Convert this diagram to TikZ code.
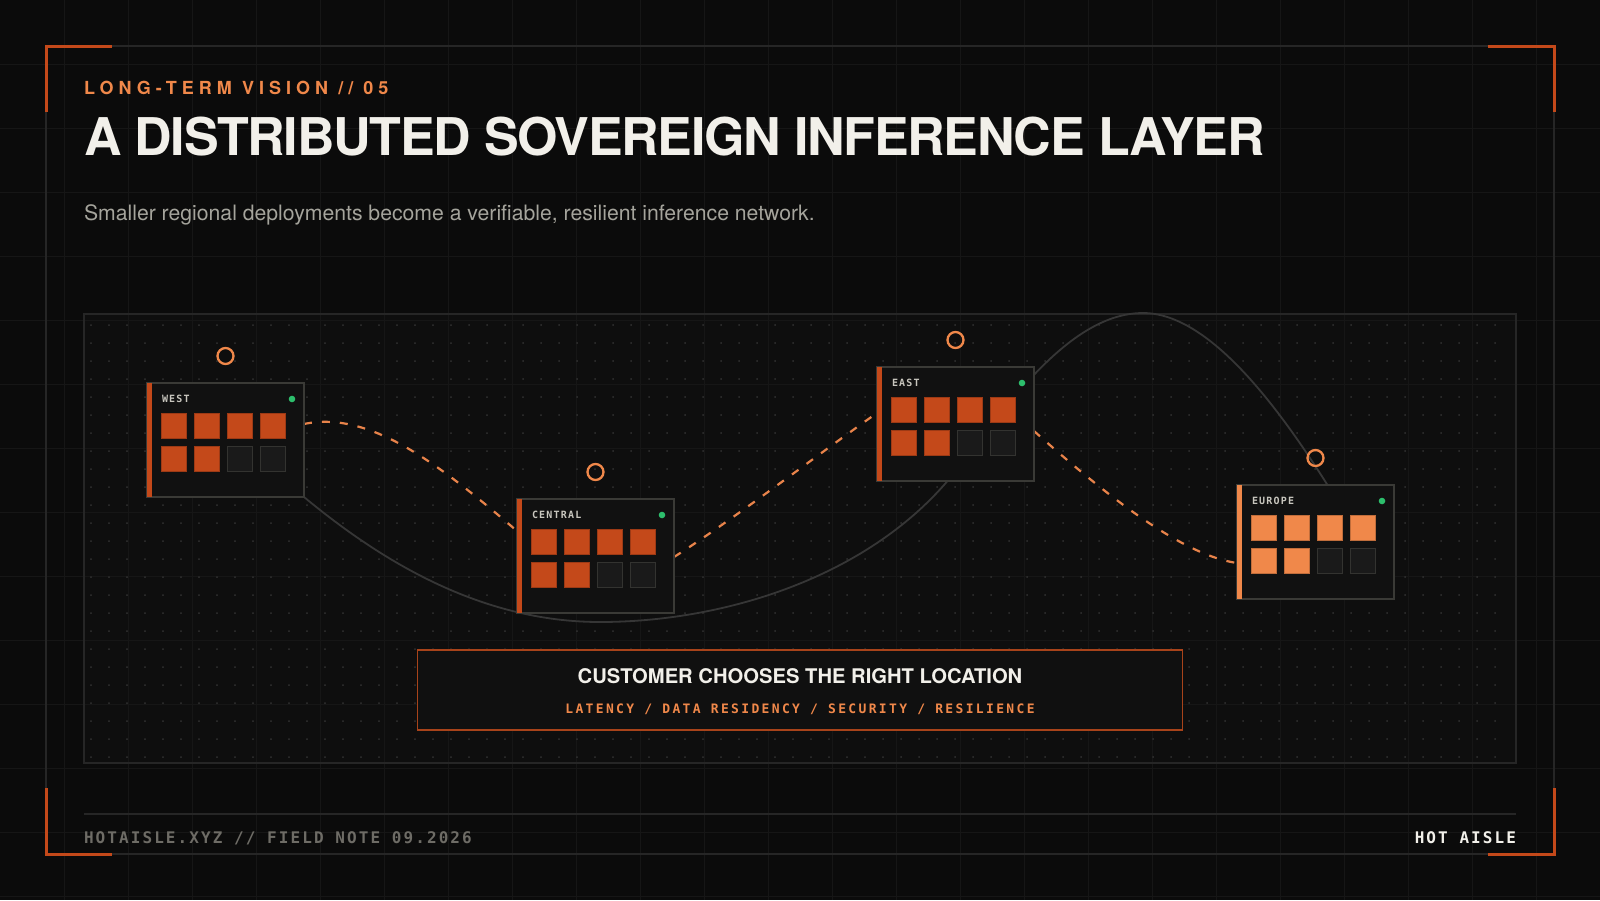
\documentclass[tikz,border=0pt]{standalone}
\usepackage{fontspec}
\setmainfont{TeX Gyre Heros}
\newfontfamily\headfont{TeX Gyre Heros}[LetterSpace=-2.5]
\newfontfamily\kickfont{TeX Gyre Heros}[LetterSpace=28]
\newfontfamily\tagfont{DejaVu Sans Mono}[LetterSpace=12]
\newfontfamily\factorfont{DejaVu Sans Mono}[LetterSpace=18]
\newfontfamily\footfont{DejaVu Sans Mono}[LetterSpace=13]
\usetikzlibrary{calc, positioning}
\definecolor{bgblack}{HTML}{0B0B0B}
\definecolor{gridgrey}{HTML}{161616}
\definecolor{framegrey}{HTML}{262626}
\definecolor{panelfill}{HTML}{0E0E0E}
\definecolor{dotgrey}{HTML}{323232}
\definecolor{bracketorange}{HTML}{C4491A}
\definecolor{accent}{HTML}{F0884A}
\definecolor{linkorange}{HTML}{E8834A}
\definecolor{offwhite}{HTML}{F2F0EA}
\definecolor{subgrey}{HTML}{A5A49C}
\definecolor{cardfill}{HTML}{111111}
\definecolor{cardedge}{HTML}{3A3A36}
\definecolor{labelgrey}{HTML}{C8C6BE}
\definecolor{livegreen}{HTML}{2DBE6C}
\definecolor{gpuorange}{HTML}{C4491A}
\definecolor{gpulight}{HTML}{F0884A}
\definecolor{gpuidle}{HTML}{1A1A1A}
\definecolor{gpuedge}{HTML}{333330}
\definecolor{curvegrey}{HTML}{363636}
\definecolor{boxedge}{HTML}{A8431A}
\definecolor{boxfill}{HTML}{101010}
\definecolor{footgrey}{HTML}{6E6C66}
\pgfdeclarelayer{backdrop}
\pgfdeclarelayer{wires}
\pgfsetlayers{backdrop,wires,main}
% one region: card, accent bar, label, status dot, 8 gpu slots (6 busy), ring marker
\newcommand{\regioncard}[5]{%
  \node[card, anchor=north west] (#1) at (#2,#3) {};
  \fill[#5] (#1.north west) rectangle ($(#1.south west)+(5,0)$);
  \node[cardlabel, anchor=west] (#1-label) at ($(#1.north west)+(15,16)$) {#4};
  \fill[livegreen] ($(#1.north east)+(-12,16)$) circle (1.65pt);
  \foreach \i in {0,...,3}
    \filldraw[fill=#5, draw=#5!80!black, line width=0.5pt] ($(#1.north west)+(14+33*\i,30)$) rectangle +(25,25);
  \foreach \i in {0,1}
    \filldraw[fill=#5, draw=#5!80!black, line width=0.5pt] ($(#1.north west)+(14+33*\i,63)$) rectangle +(25,25);
  \foreach \i in {2,3}
    \filldraw[fill=gpuidle, draw=gpuedge, line width=0.5pt] ($(#1.north west)+(14+33*\i,63)$) rectangle +(25,25);
  \node[ring] (#1-ring) at ($(#1.north)+(0,-27)$) {};
}

\begin{document}
\begin{tikzpicture}[
    x=0.5pt, y=-0.5pt,
    every node/.style={inner sep=0pt, outer sep=0pt},
    card/.style={rectangle, draw=cardedge, fill=cardfill, line width=0.75pt,
                 minimum width=78.5pt, minimum height=57pt},
    ring/.style={circle, draw=accent, line width=1.15pt, minimum size=8pt},
    cardlabel/.style={text=labelgrey, font=\tagfont\bfseries\fontsize{5}{6}\selectfont},
    link/.style={draw=linkorange, line width=1.1pt, dash pattern=on 4pt off 5pt},
    backbone/.style={draw=curvegrey, line width=0.9pt},
    bracket/.style={draw=bracketorange, line width=1.5pt},
    rule/.style={draw=framegrey, line width=0.75pt},
    kicker/.style={text=accent, font=\kickfont\bfseries\fontsize{9}{11}\selectfont},
    headline/.style={text=offwhite, font=\headfont\bfseries\fontsize{26}{30}\selectfont},
    subline/.style={text=subgrey, font=\fontsize{10.6}{12}\selectfont},
    summarybox/.style={rectangle, draw=boxedge, fill=boxfill, line width=0.75pt,
                       minimum width=382.5pt, minimum height=40pt},
    boxhead/.style={text=offwhite, font=\bfseries\fontsize{10.1}{12}\selectfont},
    boxfactors/.style={text=accent, font=\factorfont\bfseries\fontsize{6.5}{8}\selectfont},
    footnote/.style={text=footgrey, font=\footfont\bfseries\fontsize{8}{10}\selectfont},
    footbrand/.style={text=offwhite, font=\footfont\bfseries\fontsize{8}{10}\selectfont},
]
\useasboundingbox (0,0) rectangle (1600,900);
% backdrop: page, panel, faint grid, dot field
\begin{pgfonlayer}{backdrop}
\fill[bgblack] (0,0) rectangle (1600,900);
\fill[panelfill] (84,314) rectangle (1516,763);
\foreach \g in {64,128,...,1536}
  \draw[gridgrey, line width=0.5pt] (\g,0) -- (\g,900);
\foreach \g in {64,128,...,896}
  \draw[gridgrey, line width=0.5pt] (0,\g) -- (1600,\g);
\draw[rule] (84,314) rectangle (1516,763);
\foreach \dx in {91,109,...,1510}
  \foreach \dy in {325,343,...,760}
    \fill[dotgrey] (\dx,\dy) circle (0.5pt);
\end{pgfonlayer}
% frame and corner brackets
\draw[rule] (46,46) rectangle (1554,854);
\draw[bracket] (46,112) -- (46,46) -- (112,46);
\draw[bracket] (1488,46) -- (1554,46) -- (1554,112);
\draw[bracket] (46,788) -- (46,854) -- (112,854);
\draw[bracket] (1488,854) -- (1554,854) -- (1554,788);
% heading
\node[kicker, anchor=base west] (kicker) at (84,94) {LONG-TERM VISION // 05};
\node[headline, anchor=base west] (title) at (84,155) {A DISTRIBUTED SOVEREIGN INFERENCE LAYER};
\node[subline, anchor=base west] (subtitle) at (84,220) {Smaller regional deployments become a verifiable, resilient inference network.};
% the four regions
\regioncard{west}{147}{383}{WEST}{gpuorange}
\regioncard{central}{517}{499}{CENTRAL}{gpuorange}
\regioncard{east}{877}{367}{EAST}{gpuorange}
\regioncard{europe}{1237}{485}{EUROPE}{gpulight}
% backbone curve and dashed links, behind the cards
\coordinate (backbone-low) at (600,622);
\coordinate (backbone-mid) at (944,485);
\coordinate (backbone-top) at (1143,313);
\coordinate (backbone-end) at ($(europe.north)+(12,0)$);
\begin{pgfonlayer}{wires}
\draw[backbone] (west.south east) .. controls (380,560) and (480,622) .. (backbone-low)
  .. controls (720,622) and (860,580) .. (backbone-mid)
  .. controls (990,433) and (1060,313) .. (backbone-top)
  .. controls (1210,313) and (1280,410) .. (backbone-end);
\draw[link] ($(west.east)+(0,-16)$) .. controls +(66,-14) and +(-77,-66) .. ($(central.west)+(0,-25)$);
\draw[link] ($(central.east)+(0,1)$) .. controls +(60,-38) and +(-60,42) .. ($(east.west)+(0,-11)$);
\draw[link] ($(east.east)+(0,7)$) .. controls +(66,59) and +(-57,-8) .. ($(europe.west)+(0,21)$);
\end{pgfonlayer}
% customer choice
\node[summarybox] (summary) at (800,690) {};
\node[boxhead, anchor=base] (summary-title) at ($(summary.north)+(0,33)$) {CUSTOMER CHOOSES THE RIGHT LOCATION};
\node[boxfactors, anchor=base] (summary-factors) at ($(summary.north)+(0,63)$) {LATENCY / DATA RESIDENCY / SECURITY / RESILIENCE};
% footer
\draw[rule] (84,814) -- (1516,814);
\node[footnote, anchor=base west] (footer-left) at (84,843) {HOTAISLE.XYZ // FIELD NOTE 09.2026};
\node[footbrand, anchor=base east] (footer-right) at (1516,843) {HOT AISLE};
\end{tikzpicture}
\end{document}
